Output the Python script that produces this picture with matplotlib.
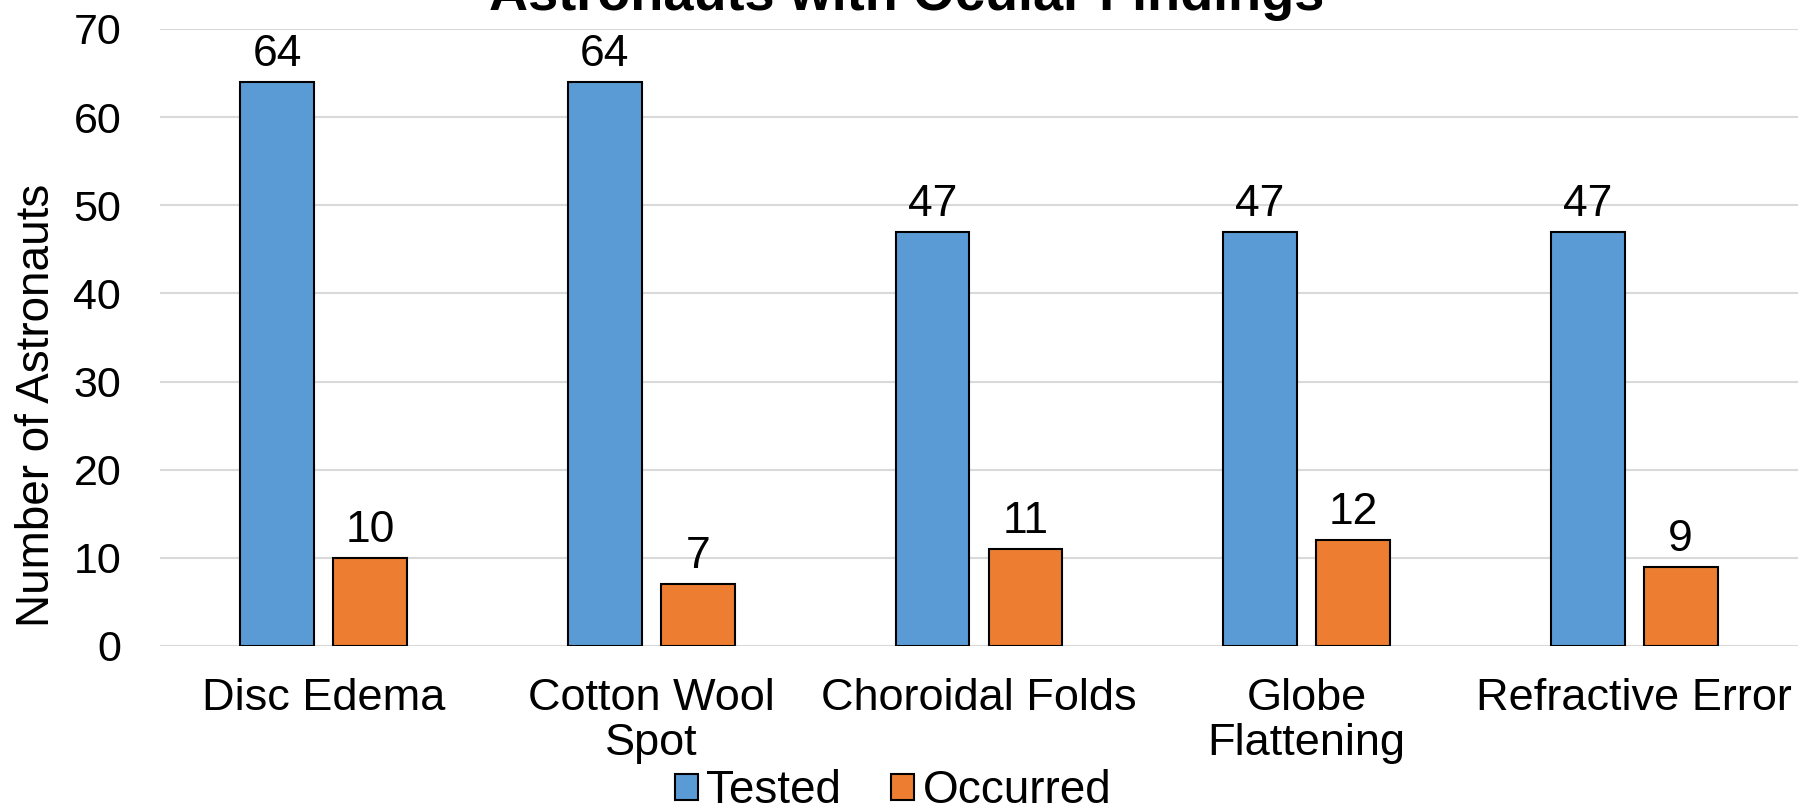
import matplotlib.pyplot as plt
import numpy as np

plt.rcParams['font.family'] = ['Liberation Sans', 'DejaVu Sans']

categories = ['Disc Edema', 'Cotton Wool\nSpot', 'Choroidal Folds', 'Globe\nFlattening', 'Refractive Error']
tested = [64, 64, 47, 47, 47]
occurred = [10, 7, 11, 12, 9]
yticks = [0, 10, 20, 30, 40, 50, 60, 70]

fig = plt.figure(figsize=(18, 8.1), dpi=100)
ax = fig.add_axes([0.0889, 0.2025, 0.91, 0.7617])

x = np.arange(len(categories))
w = 0.225
b1 = ax.bar(x - 0.142, tested, w, color='#5B9BD5', edgecolor='black', linewidth=1.5, label='Tested', zorder=3)
b2 = ax.bar(x + 0.142, occurred, w, color='#ED7D31', edgecolor='black', linewidth=1.5, label='Occurred', zorder=3)
ax.bar_label(b1, padding=5, fontsize=32)
ax.bar_label(b2, padding=5, fontsize=32)

ax.set_xlim(-0.5, len(categories) - 0.5)
ax.set_ylim(0, 70)
ax.set_yticks(yticks)
ax.yaxis.grid(True, color='#d9d9d9', linewidth=1.5, zorder=0)
for s in ax.spines.values():
    s.set_visible(False)
ax.tick_params(axis='both', length=0)
ax.tick_params(axis='y', pad=28, labelsize=31)
ax.set_xticks(x)
ax.set_xticklabels(categories, fontsize=32.5, linespacing=1.12)
ax.tick_params(axis='x', pad=23)
ax.set_ylabel('Number of Astronauts', fontsize=33)
ax.yaxis.set_label_coords(-0.0617, 0.39)

fig.text(907 / 1800, 1 - 10 / 810, 'Astronauts with Ocular Findings', fontsize=39, fontweight='bold',
         ha='center', va='baseline')

fig.legend(loc='center', bbox_to_anchor=(893 / 1800, 1 - 791 / 810), ncol=2, frameon=False,
           fontsize=33, handlelength=0.5, handleheight=0.5, handletextpad=0.18,
           columnspacing=1.1, borderpad=0)

fig.savefig('out.png', dpi=100)
